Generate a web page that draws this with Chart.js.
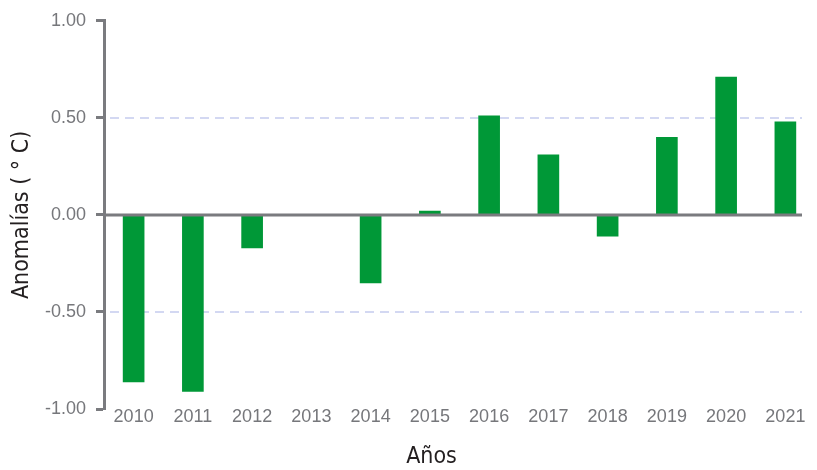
<!DOCTYPE html>
<html>
<head>
<meta charset="utf-8">
<script src="https://cdn.jsdelivr.net/npm/chart.js@4/dist/chart.umd.min.js"></script>
<style>
  html, body { margin: 0; padding: 0; background: #ffffff; }
  #wrap { width: 817px; height: 470px; position: relative; }
</style>
</head>
<body>
<div id="wrap"><canvas id="c"></canvas></div>
<script>
const years = ['2010','2011','2012','2013','2014','2015','2016','2017','2018','2019','2020','2021'];
const anomalies = [-0.86, -0.91, -0.17, 0.00, -0.35, 0.02, 0.51, 0.31, -0.11, 0.40, 0.71, 0.48];
const yTicks = [-1.0, -0.5, 0.0, 0.5, 1.0];
const dashedLevels = [-0.5, 0.5];
const yTitle = 'Anomalías ( ° C)';
const xTitle = 'Años';

const GRAY = '#7a7b7f';
const LABEL = '#76777b';
const FONT = "'Liberation Sans', Arial, sans-serif";
const NARROW = "'Liberation Sans Narrow', 'DejaVu Sans Condensed', 'Liberation Sans', sans-serif";

const linesPlugin = {
  id: 'refLines',
  beforeDatasetsDraw(chart) {
    const { ctx, chartArea, scales } = chart;
    const y = scales.y;
    ctx.save();
    ctx.strokeStyle = '#d3d8f2';
    ctx.lineWidth = 2;
    ctx.setLineDash([9, 6]);
    dashedLevels.forEach(v => {
      const py = Math.round(y.getPixelForValue(v));
      ctx.beginPath();
      ctx.moveTo(chartArea.left + 6, py);
      ctx.lineTo(chartArea.right - 13, py);
      ctx.stroke();
    });
    ctx.restore();
  },
  afterDatasetsDraw(chart) {
    const { ctx, chartArea, scales } = chart;
    const py = scales.y.getPixelForValue(0);
    ctx.save();
    ctx.strokeStyle = GRAY;
    ctx.lineWidth = 3;
    ctx.beginPath();
    ctx.moveTo(chartArea.left, py);
    ctx.lineTo(chartArea.right - 13, py);
    ctx.stroke();
    ctx.restore();
  },
  afterDraw(chart) {
    const { ctx, scales } = chart;
    const xs = scales.x;
    ctx.save();
    ctx.fillStyle = '#231f20';
    ctx.font = "23px " + NARROW;
    ctx.textAlign = 'center';
    ctx.textBaseline = 'alphabetic';
    ctx.fillText(xTitle, (xs.left + xs.right) / 2 - 28, xs.bottom - 7);
    ctx.restore();
  }
};

new Chart(document.getElementById('c'), {
  type: 'bar',
  data: {
    labels: years,
    datasets: [{
      data: anomalies,
      backgroundColor: '#009837',
      borderWidth: 0,
      barThickness: 21
    }]
  },
  options: {
    responsive: true,
    maintainAspectRatio: false,
    animation: false,
    layout: { padding: { top: 19, right: 2, left: 0, bottom: 0 } },
    plugins: { legend: { display: false }, tooltip: { enabled: false } },
    scales: {
      x: {
        offset: true,
        grid: { display: false, drawTicks: false },
        border: { display: false },
        ticks: { color: LABEL, font: { family: FONT, size: 18 }, padding: -3, maxRotation: 0, autoSkip: false },
        title: { display: false },
        afterFit(scale) { scale.height = 61; }
      },
      y: {
        min: -1, max: 1,
        afterBuildTicks(scale) { scale.ticks = yTicks.map(v => ({ value: v })); },
        ticks: { color: LABEL, font: { family: FONT, size: 18 }, padding: 10, callback: v => Number(v).toFixed(2) },
        grid: { display: true, drawOnChartArea: false, drawTicks: true, tickLength: 8, tickWidth: 3, tickColor: GRAY },
        border: { display: true, color: GRAY, width: 3 },
        title: { display: true, text: yTitle, color: '#231f20', font: { family: NARROW, size: 23 }, padding: { top: 8, bottom: 0 } },
        afterFit(scale) { scale.width = 104; }
      }
    }
  },
  plugins: [linesPlugin]
});
</script>
</body>
</html>
